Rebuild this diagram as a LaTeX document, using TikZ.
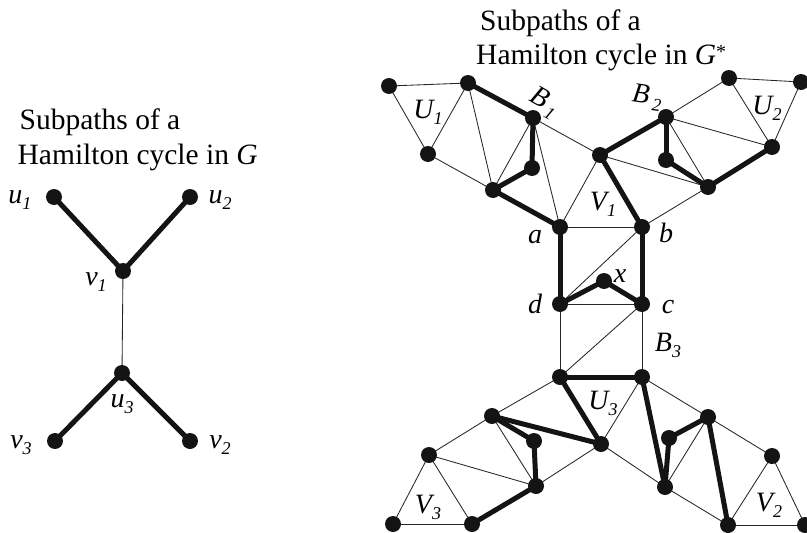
\documentclass[tikz,border=0pt]{standalone}
\usepackage{fontspec}
\setmainfont{Liberation Serif}
\usetikzlibrary{backgrounds}
\tikzset{
  dot/.style={circle, fill=black!92, inner sep=0pt, minimum size=16pt},
  tedge/.style={line width=0.85pt, draw=black!85},
  Tedge/.style={line width=5pt, draw=black!92},
  lab/.style={font=\fontsize{28}{28}\selectfont\itshape, inner sep=0pt, anchor=base},
  labc/.style={font=\fontsize{28}{28}\selectfont\itshape, inner sep=0pt, anchor=center},
  ttl/.style={font=\fontsize{29.5}{34}\selectfont, inner sep=0pt, anchor=base west},
}
\newcommand\sbs[1]{\raisebox{-0.22em}{\fontsize{18}{18}\selectfont\itshape #1}}
\begin{document}
\begin{tikzpicture}[x=1pt,y=-1pt]
\useasboundingbox (0,0) rectangle (807,533);
% titles
\node[ttl] (lt1) at (19.5,129) {Subpaths of a};
\node[ttl] (lt2) at (17.5,164) {Hamilton cycle in \textit{G}};
\node[ttl] (rt1) at (480,30) {Subpaths of a};
\node[ttl] (rt2) at (476,64) {Hamilton cycle in \textit{G}\raisebox{6pt}{\fontsize{20}{20}\selectfont *}};
% left graph nodes
\foreach \n/\x/\y in {lu1/54/197, lu2/190/197, lv1/123/271, lu3/122/373, lv3/55/441, lv2/190/441}
  \node[dot] (\n) at (\x,\y) {};
% right graph nodes
\foreach \n/\x/\y in {p1/389/86, p2/468/83, p3/428/154, B1/533/118, q1/532/168, p5/493/190,
  a/560/227, v1t/600/155, B2/666/117, q2/666/160, r/708/187, s/772/147, t1/729/78, t2/801/82,
  b/642/227, x/604/281, d/560/304, c/642/304, bl/560/377, br/642/377,
  w1/492/416, w2/534/441, u3b/601/444, w3/429/455, w4/536/486, w5/393/524, w6/472/524,
  x1/708/417, x2/669/438, x3/665/487, x4/772/456, x5/728/525, x6/805/525}
  \node[dot] (\n) at (\x,\y) {};
% edges
\begin{pgfonlayer}{background}
\foreach \u/\v in {lv1/lu3,
  p1/p2, p1/p3, p2/p3, p2/p5, p3/p5, p5/B1, B1/a, B1/v1t, v1t/a, a/b,
  v1t/r, B2/r, B2/s, B2/t1, t1/s, t1/t2, t2/s, r/b,
  d/c, d/b, d/bl, c/br, c/bl,
  bl/w1, br/u3b, w1/w4, w1/w3, w3/w4, w4/u3b, w3/w5, w3/w6, w5/w6,
  br/x1, u3b/x3, x3/x1, x1/x4, x3/x5, x5/x4, x4/x6, x5/x6}
  \draw[tedge] (\u.center) -- (\v.center);
\foreach \u/\v in {lu1/lv1, lu2/lv1, lu3/lv3, lu3/lv2,
  p2/B1, B1/q1, q1/p5, p5/a,
  v1t/B2, v1t/b, B2/q2, q2/r, r/s,
  a/d, b/c, d/x, x/c, bl/br,
  bl/u3b, w1/u3b, w1/w2, w2/w4, w6/w4,
  br/x3, x3/x2, x2/x1, x1/x5}
  \draw[Tedge] (\u.center) -- (\v.center);
\end{pgfonlayer}
% left labels
\node[lab] (Lu1) at (20,203) {u\sbs{1}};
\node[lab] (Lu2) at (220,203) {u\sbs{2}};
\node[lab] (Lv1) at (96,285) {v\sbs{1}};
\node[lab] (Lu3) at (122,407) {u\sbs{3}};
\node[lab] (Lv3) at (21,448) {v\sbs{3}};
\node[lab] (Lv2) at (220,448) {v\sbs{2}};
% right labels
\node[lab] (La) at (535,243) {a};
\node[lab] (Lb) at (666,242) {b};
\node[lab] (Lc) at (668,313) {c};
\node[lab] (Ld) at (535,313) {d};
\node[lab] (Lx) at (620,282) {x};
\node[labc, rotate=-30] (LB1) at (544,103) {B\kern3pt\sbs{1}};
\node[labc, rotate=-8] (LB2) at (647,98) {B\kern4pt\sbs{2}};
\node[labc] (LB3) at (668,345) {B\sbs{3}};
\node[labc] (LU1) at (428,112) {U\sbs{1}};
\node[labc] (LU2) at (767,108) {U\sbs{2}};
\node[labc] (LV1) at (603,204) {V\sbs{1}};
\node[labc] (LU3) at (603,403) {U\sbs{3}};
\node[labc] (LV3) at (428,507) {V\sbs{3}};
\node[labc] (LV2) at (769,505) {V\sbs{2}};
\end{tikzpicture}
\end{document}
